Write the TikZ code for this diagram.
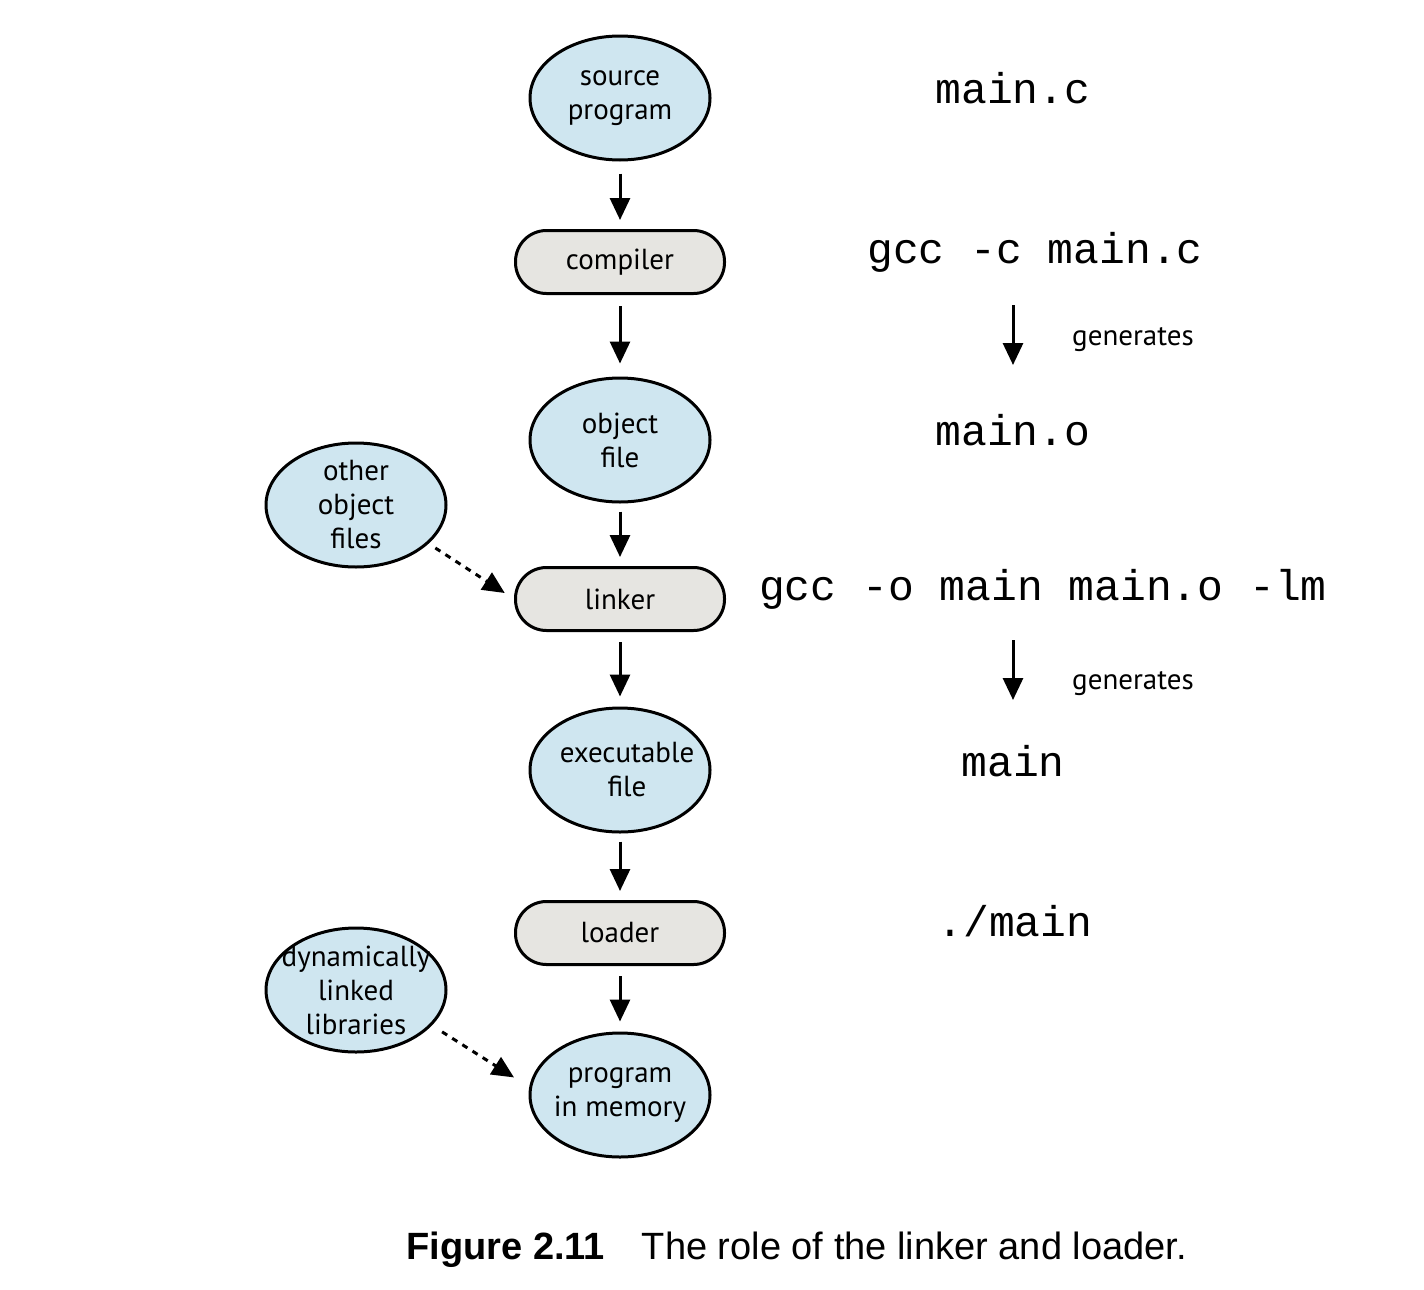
\documentclass[tikz,border=0pt]{standalone}
\usepackage{fontspec}
\setmainfont{PT Sans}
\newfontfamily\codefont{Liberation Mono}
\newfontfamily\capfont{Liberation Sans}
\usetikzlibrary{arrows.meta,shapes.geometric}
\definecolor{fileblue}{RGB}{207,230,240}
\definecolor{toolgray}{RGB}{230,229,225}
\begin{document}
\begin{tikzpicture}[x=0.5pt,y=-0.5pt,
  lbl/.style={font=\fontsize{14.5}{17}\selectfont, align=center},
  filenode/.style={lbl, ellipse, draw=black, line width=1.5pt, fill=fileblue,
    minimum width=90pt, minimum height=62pt, inner sep=-20pt},
  toolnode/.style={lbl, rectangle, rounded corners=15.5pt, draw=black, line width=1.5pt,
    fill=toolgray, minimum width=104.5pt, minimum height=31.5pt, inner sep=0pt},
  code/.style={font=\codefont\fontsize{21.5}{24}\selectfont, inner sep=0pt},
  tip/.style={-{Triangle[length=11pt,width=10pt]}},
  arr/.style={line width=1.5pt, tip},
  dotarr/.style={line width=1.5pt, dash pattern=on 3pt off 3pt, tip}
]
\useasboundingbox (0,0) rectangle (1424,1290);

% build chain
\node[filenode] (src)  at (620,98)   {source\\program};
\node[toolnode] (comp) at (620,262)  {compiler};
\node[filenode] (obj)  at (620,440)  {object\\file};
\node[toolnode] (link) at (620,599)  {linker};
\node[filenode] (exe)  at (620,770)  {\hspace*{7pt}executable\\\hspace*{7pt}file};
\node[toolnode] (load) at (620,933)  {loader};
\node[filenode] (mem)  at (620,1095) {program\\in memory};

% side inputs
\node[filenode] (oof) at (356,505) {other\\object\\files};
\node[filenode] (dll) at (356,990) {dynamically\\linked\\libraries};

\draw[arr, shorten <=6pt, shorten >=4.5pt] (src) -- (comp);
\draw[arr, shorten <=5.5pt, shorten >=6.5pt] (comp) -- (obj);
\draw[arr, shorten <=4pt, shorten >=4.5pt] (obj) -- (link);
\draw[arr, shorten <=5pt, shorten >=5pt] (link) -- (exe);
\draw[arr, shorten <=4pt, shorten >=4.5pt] (exe) -- (load);
\draw[arr, shorten <=5pt, shorten >=5pt] (load) -- (mem);

\draw[dotarr, shorten <=4pt, shorten >=5.5pt] (oof.-28) -- (link.west);
\draw[dotarr, shorten <=6pt, shorten >=9pt] (dll.-25) -- (mem.175);

% command line column
\node[code] (t1) at (1013,88)  {main.c};
\node[code] (t2) at (1035,252) {gcc -c main.c};
\node[code] (t3) at (1013,430) {main.o};
\node[code] (t4) at (1043,589) {gcc -o main main.o -lm};
\node[code] (t5) at (1013,761) {main};
\node[code] (t6) at (1015,921) {./main};

\coordinate (g1a) at (1013,305);
\coordinate (g1b) at (1013,365);
\coordinate (g2a) at (1013,640);
\coordinate (g2b) at (1013,700);
\draw[arr] (g1a) -- (g1b);
\draw[arr] (g2a) -- (g2b);
\node[lbl, inner sep=0pt] (gen1) at (1133,340) {generates};
\node[lbl, inner sep=0pt] (gen2) at (1133,684) {generates};

% caption
\node[anchor=west, inner sep=0pt, font=\capfont\fontsize{19}{22}\selectfont] (cap) at (406,1250)
  {\textbf{Figure 2.11}\hspace{18.5pt}The role of the linker and loader.};
\end{tikzpicture}
\end{document}
